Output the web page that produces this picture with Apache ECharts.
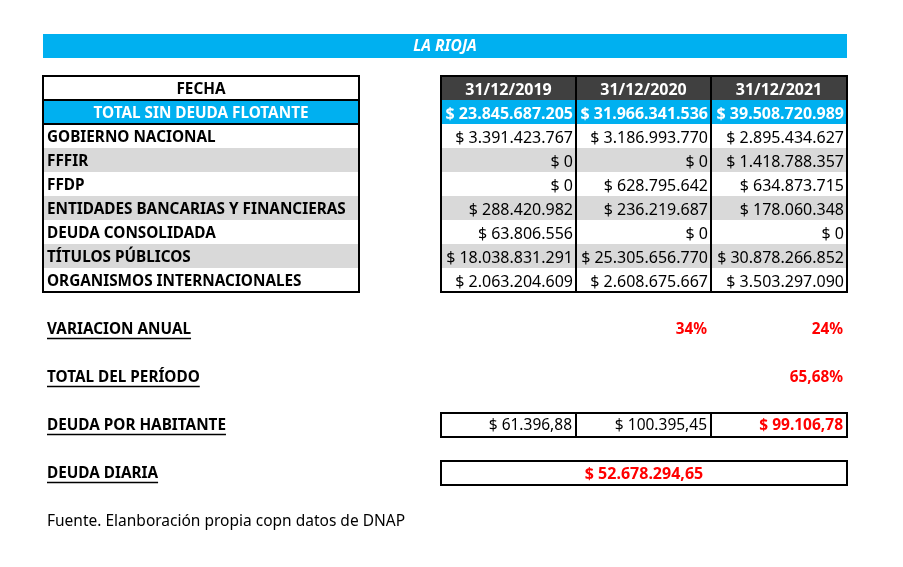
<!DOCTYPE html>
<html>
<head>
<meta charset="utf-8">
<script src="https://cdn.jsdelivr.net/npm/echarts@6/dist/echarts.min.js"></script>
<style>
html,body{margin:0;padding:0;background:#fff;}
#main{width:903px;height:567px;}
</style>
</head>
<body>
<div id="main"></div>
<script>
// datos de la tabla
var titulo = "LA RIOJA";
var fechas = ["31/12/2019", "31/12/2020", "31/12/2021"];
var filaTotal = "TOTAL SIN DEUDA FLOTANTE";
var totales = [23845687205, 31966341536, 39508720989];
var conceptos = ["GOBIERNO NACIONAL", "FFFIR", "FFDP", "ENTIDADES BANCARIAS Y FINANCIERAS",
	"DEUDA CONSOLIDADA", "TÍTULOS PÚBLICOS", "ORGANISMOS INTERNACIONALES"];
var deuda2019 = [3391423767, 0, 0, 288420982, 63806556, 18038831291, 2063204609];
var deuda2020 = [3186993770, 0, 628795642, 236219687, 0, 25305656770, 2608675667];
var deuda2021 = [2895434627, 1418788357, 634873715, 178060348, 0, 30878266852, 3503297090];
var variacionAnual = [null, 34, 24];
var totalPeriodo = 65.68;
var deudaHabitante = [61396.88, 100395.45, 99106.78];
var deudaDiaria = 52678294.65;
var fuente = "Fuente. Elanboración propia copn datos de DNAP";

var FONT = '"Noto Sans", sans-serif';
var AZUL = "#00b0f0", GRIS = "#d9d9d9", OSCURO = "#404040", ROJO = "#ff0000";
var T_ETQ = 15.3, T_NUM = 16;

//formato con punto de miles y coma decimal
function fmt(n, dec){
	var s = n.toFixed(dec || 0).split(".");
	s[0] = s[0].replace(/\B(?=(\d{3})+(?!\d))/g, ".");
	return "$ " + (s.length > 1 ? s[0] + "," + s[1] : s[0]);
}

var ctxMedir = document.createElement("canvas").getContext("2d");
function ancho(txt, font){
	ctxMedir.font = font;
	return ctxMedir.measureText(txt).width;
}

var g = [];
function rect(x, y, w, h, fill){
	g.push({type:"rect", shape:{x:x, y:y, width:w, height:h}, style:{fill:fill}, silent:true});
}
function linea(x1, y1, x2, y2, w){
	g.push({type:"line", shape:{x1:x1, y1:y1, x2:x2, y2:y2}, style:{stroke:"#000", lineWidth:w || 2}, silent:true, z:10});
}
function caja(x, y, w, h){
	g.push({type:"rect", shape:{x:x, y:y, width:w, height:h}, style:{fill:null, stroke:"#000", lineWidth:2}, silent:true, z:10});
}
function texto(txt, x, y, align, color, bold, size, italic){
	g.push({type:"text", x:x, y:y + 1, z:20, silent:true, style:{
		text:txt, fill:color || "#000", align:align || "left", verticalAlign:"middle",
		font:(italic ? "italic " : "") + (bold ? "bold " : "") + (size || T_ETQ) + "px " + FONT
	}});
}

// barra del titulo
rect(43, 34, 804, 24, AZUL);
texto(titulo, 445, 46, "center", "#fff", true, 15.5, true);

var L = 43, LW = 316, R = 441, CW = [135, 135, 136], top0 = 76, RH = 24;
var colX = [R, R + CW[0], R + CW[0] + CW[1], R + CW[0] + CW[1] + CW[2]];
var columnas = [deuda2019, deuda2020, deuda2021];

// fondos
rect(colX[0], top0, colX[3] - colX[0], RH, OSCURO);
rect(L, top0 + RH, LW, RH, AZUL);
rect(colX[0], top0 + RH, colX[3] - colX[0], RH, AZUL);
for (var i = 0; i < conceptos.length; i++){
	if (i % 2 == 1){
		var yy = top0 + RH * (i + 2);
		rect(L, yy, LW, RH, GRIS);
		rect(colX[0], yy, colX[3] - colX[0], RH, GRIS);
	}
}

// textos de la cabecera
texto("FECHA", L + LW / 2, top0 + RH / 2 + 1, "center", "#000", true);
texto(filaTotal, L + LW / 2, top0 + RH * 1.5 + 1, "center", "#fff", true);
for (var c = 0; c < 3; c++){
	texto(fechas[c], (colX[c] + colX[c + 1]) / 2, top0 + RH / 2 + 1, "center", "#fff", true, T_NUM);
	texto(fmt(totales[c]), colX[c + 1] - 3, top0 + RH * 1.5 + 1, "right", "#fff", true, T_NUM);
}

// filas
for (var i = 0; i < conceptos.length; i++){
	var ym = top0 + RH * (i + 2) + RH / 2 + 1;
	texto(conceptos[i], L + 4, ym, "left", "#000", true);
	for (var c = 0; c < 3; c++){
		texto(fmt(columnas[c][i]), colX[c + 1] - 3, ym, "right", "#000", false, T_NUM);
	}
}

var bottom = top0 + RH * (conceptos.length + 2);
caja(L, top0, LW, bottom - top0);
linea(L, top0 + RH, L + LW, top0 + RH);
linea(L, top0 + RH * 2, L + LW, top0 + RH * 2);
caja(colX[0], top0, colX[3] - colX[0], bottom - top0);
linea(colX[1], top0, colX[1], bottom);
linea(colX[2], top0, colX[2], bottom);

// indicadores de abajo
function etiqueta(txt, y){
	var f = "bold " + T_ETQ + "px " + FONT;
	texto(txt, 47, y, "left", "#000", true);
	var w = ancho(txt, f);
	linea(47, y + 9.5, 47 + w, y + 9.5, 1.3);
}
etiqueta("VARIACION ANUAL", 329);
for (var c = 0; c < 3; c++){
	if (variacionAnual[c] != null) texto(variacionAnual[c] + "%", colX[c + 1] - 4, 329, "right", ROJO, true);
}
etiqueta("TOTAL DEL PERÍODO", 377);
texto(totalPeriodo.toFixed(2).replace(".", ",") + "%", colX[3] - 4, 377, "right", ROJO, true);

etiqueta("DEUDA POR HABITANTE", 425);
caja(colX[0], 413, colX[3] - colX[0], 24);
linea(colX[1], 413, colX[1], 437);
linea(colX[2], 413, colX[2], 437);
for (var c = 0; c < 3; c++){
	texto(fmt(deudaHabitante[c], 2), colX[c + 1] - 4, 425, "right", c == 2 ? ROJO : "#000", c == 2, 15.5);
}

etiqueta("DEUDA DIARIA", 473);
caja(colX[0], 461, colX[3] - colX[0], 24);
texto(fmt(deudaDiaria, 2), (colX[0] + colX[3]) / 2, 473, "center", ROJO, true, T_NUM);

texto(fuente, 47, 521, "left", "#000", false, 15.5);

var myChart = echarts.init(document.getElementById("main"), null, {renderer:"canvas"});
myChart.setOption({
	backgroundColor:"#fff",
	animation:false,
	graphic:g
});
</script>
</body>
</html>
